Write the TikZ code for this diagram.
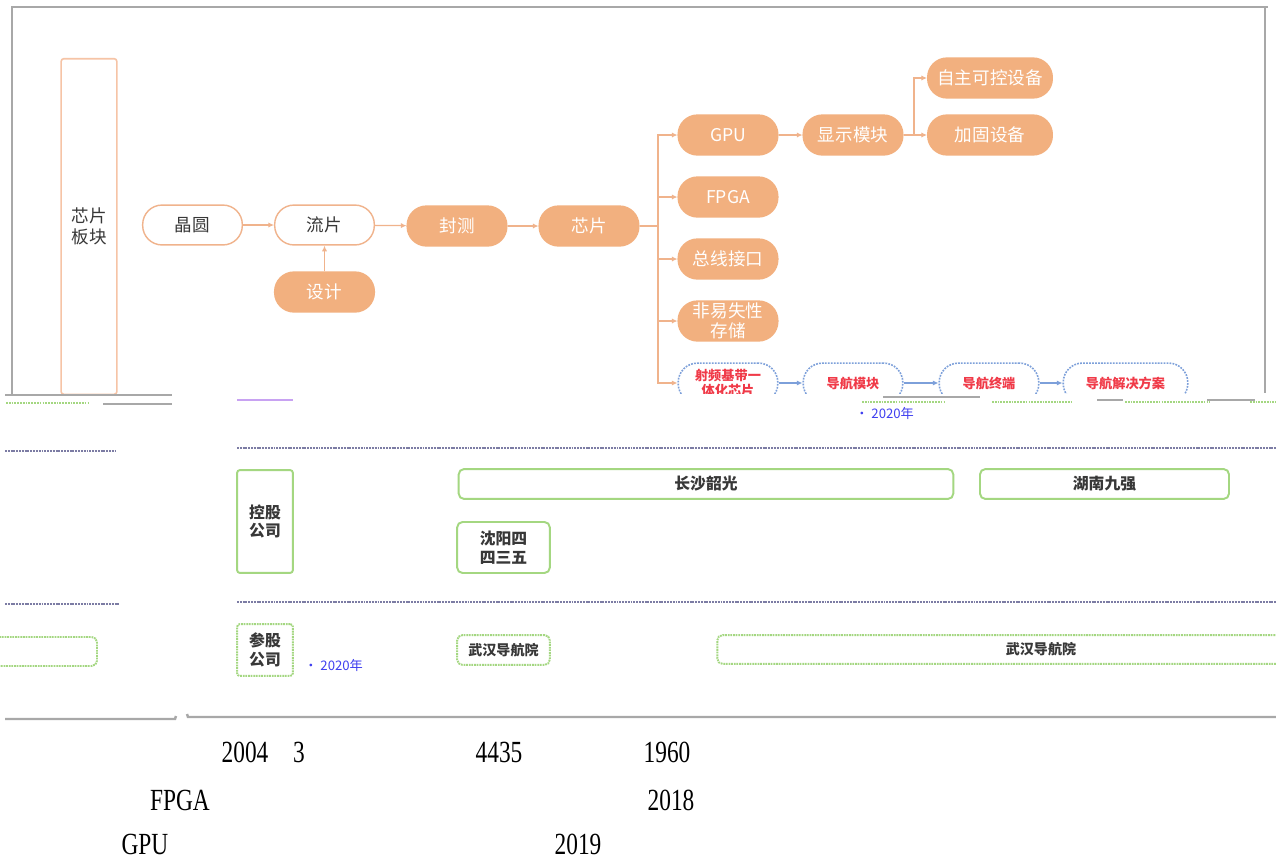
\documentclass[tikz,border=0pt]{standalone}
\usepackage{fontspec}
\setmainfont{Liberation Serif}
\newfontfamily\cjk{Noto Sans CJK SC}
\newfontfamily\tnr[FakeStretch=0.76]{Liberation Serif}
\usetikzlibrary{arrows.meta}
\definecolor{orfill}{HTML}{F2B07F}
\definecolor{orline}{HTML}{F0B38C}
\definecolor{orbox}{HTML}{F6C4A6}
\definecolor{framegray}{HTML}{A8A8A8}
\definecolor{navblue}{HTML}{7DA0DA}
\definecolor{navred}{HTML}{F03A48}
\definecolor{grn}{HTML}{A4D781}
\definecolor{sepcol}{HTML}{7C7CA4}
\definecolor{txtdark}{HTML}{383838}
\definecolor{yrblue}{HTML}{4040F0}
\definecolor{junkpurple}{HTML}{C8A2F2}
\begin{document}
\begin{tikzpicture}[x=0.02cm,y=-0.02cm,
  pillfill/.style={fill=orfill, draw=orfill, line width=0.8pt, rounded corners=11pt,
    minimum width=56.7pt, minimum height=22.7pt, inner sep=1pt, align=center,
    text=white, font=\cjk\fontsize{10}{11.5}\selectfont},
  pillline/.style={pillfill, fill=white, draw=orline, text=txtdark},
  navpill/.style={draw=navblue, line width=0.9pt, dash pattern=on 1pt off 0.7pt,
    rounded corners=11pt, minimum width=56.7pt, minimum height=22.7pt, inner sep=1pt,
    align=center, text=navred, font=\cjk\bfseries\fontsize{7.5}{8.5}\selectfont},
  orarrow/.style={draw=orline, line width=0.7pt, -{Latex[length=3.2pt,width=3pt]}},
  orline/.style={draw=orline, line width=0.7pt},
  navarrow/.style={draw=navblue, line width=0.7pt, -{Latex[length=3.2pt,width=3pt]}},
  gbox/.style={draw=grn, line width=1.1pt, rounded corners=3pt, inner sep=1pt, align=center,
    text=txtdark, font=\cjk\bfseries\fontsize{9}{10.5}\selectfont},
  gdash/.style={gbox, dash pattern=on 1pt off 0.5pt},
  sepline/.style={draw=sepcol, line width=1.5pt, dash pattern=on 1.1pt off 0.5pt},
  yrtext/.style={text=yrblue, font=\cjk\fontsize{7.5}{9}\selectfont, inner sep=0pt},
  bottomtext/.style={font=\tnr\fontsize{17.5}{20}\selectfont, inner sep=0pt},
  junk/.style={draw=framegray, line width=1pt}]
\useasboundingbox (0,0) rectangle (1276,863);
\clip (0,0) rectangle (1276,863);
\fill[white] (0,0) rectangle (1276,863);

% outer frame
\draw[framegray, line width=1.2pt] (12,395) -- (12,7) -- (1268,7);
\draw[framegray, line width=1.2pt] (1265,7) -- (1265,393);

% chip block column
\node[draw=orbox, line width=0.9pt, rounded corners=1.5pt, minimum width=31.7pt,
  minimum height=191pt, inner sep=0pt, align=center, text=txtdark,
  font=\cjk\fontsize{10}{12}\selectfont] (bk) at (89,226.5) {芯片\\板块};

% main chain
\node[pillline] (jy) at (192.5,225) {晶圆};
\node[pillline] (lp) at (324.5,225) {流片};
\node[pillfill] (sj) at (324.5,292) {设计};
\node[pillfill] (fc) at (457,226) {封测};
\node[pillfill] (xp) at (589,226) {芯片};
\node[pillfill] (gpu) at (728,135) {GPU};
\node[pillfill] (fpga) at (728,197) {FPGA};
\node[pillfill] (zx) at (728,259) {总线接口};
\node[pillfill] (fy) at (728,321) {非易失性\\存储};
\node[pillfill] (xs) at (853,135) {显示模块};
\node[pillfill, minimum width=70.9pt] (zz) at (990,78) {自主可控设备};
\node[pillfill, minimum width=70.9pt] (jg) at (990,135) {加固设备};

\draw[orarrow] (jy) -- (lp);
\draw[orarrow] (sj) -- (lp);
\draw[orarrow] (lp) -- (fc);
\draw[orarrow] (fc) -- (xp);
\coordinate (br) at (658,226);
\draw[orline, line width=1.2pt] (xp.east) -- (br);
\draw[orarrow] (br) |- (gpu.west);
\draw[orarrow] (br) |- (fpga.west);
\draw[orarrow] (br) |- (zx.west);
\draw[orarrow] (br) |- (fy.west);
\draw[orarrow] (gpu) -- (xs);
\draw[orarrow] (xs) -- (jg);
\coordinate (br2) at (914,135);
\draw[orarrow] (br2) |- (zz.west);

% navigation row (cut off at the bottom)
\begin{scope}
\clip (600,0) rectangle (1262,393);
\node[navpill] (rf) at (728,383) {射频基带一\\体化芯片};
\node[navpill] (dm) at (853,383) {导航模块};
\node[navpill] (dz) at (989,383) {导航终端};
\node[navpill, minimum width=70.9pt] (dj) at (1125.5,383) {导航解决方案};
\draw[orarrow] (br) |- (rf.west);
\draw[navarrow] (rf) -- (dm);
\draw[navarrow] (dm) -- (dz);
\draw[navarrow] (dz) -- (dj);
\end{scope}

% broken fragments near the cut
\draw[junk] (5,395) -- (172,395);
\draw[junk, line width=0.8pt] (103,404) -- (172,404);
\draw[draw=grn, line width=0.8pt, dash pattern=on 1pt off 0.6pt] (6,403) -- (88,403);
\draw[draw=junkpurple, line width=1pt] (237,400) -- (293,400);
\draw[junk] (883,397) -- (980,397);
\draw[draw=grn, line width=0.8pt, dash pattern=on 1pt off 0.6pt] (862,402) -- (945,402);
\draw[draw=grn, line width=0.8pt, dash pattern=on 1pt off 0.6pt] (992,402) -- (1073,402);
\draw[junk] (1097,400) -- (1123,400);
\draw[draw=grn, line width=0.8pt, dash pattern=on 1pt off 0.6pt] (1125,402) -- (1210,402);
\draw[junk] (1207,400) -- (1255,400);
\draw[draw=grn, line width=0.8pt, dash pattern=on 1pt off 0.6pt] (1250,402) -- (1276,402);
\node[yrtext, anchor=west] (y1) at (855,413) {• 2020年};

% separators
\draw[sepline] (5,451) -- (115,451);
\draw[sepline] (237,448) -- (1276,448);
\draw[sepline] (5,604) -- (120,604);
\draw[sepline] (237,602) -- (1276,602);

% holding companies
\node[gbox, rounded corners=1.5pt, minimum width=31.7pt, minimum height=58.5pt] (kg) at (265,521.5) {控股\\公司};
\node[gbox, minimum width=281.5pt, minimum height=17pt] (cs) at (706,484) {长沙韶光};
\node[gbox, minimum width=141.7pt, minimum height=17pt] (hn) at (1104.5,484) {湖南九强};
\node[gbox, minimum width=52.7pt, minimum height=29pt] (sy) at (503.5,547.5) {沈阳四\\四三五};

% participating companies
\node[gdash, rounded corners=1.5pt, minimum width=31.7pt, minimum height=29.5pt] (cg) at (265,650) {参股\\公司};
\node[gdash, minimum width=52.7pt, minimum height=17pt, font=\cjk\bfseries\fontsize{8}{9}\selectfont] (wh1) at (503.5,650) {武汉导航院};
\node[gdash, minimum width=368.5pt, minimum height=16.4pt, font=\cjk\bfseries\fontsize{8}{9}\selectfont] (wh2) at (1041,649.5) {武汉导航院};
\draw[draw=grn, line width=1.1pt, dash pattern=on 1pt off 0.5pt, rounded corners=3pt] (-20,637) rectangle (97,666);
\node[yrtext, anchor=west] (y2) at (304,665) {• 2020年};

% bottom rule
\draw[junk, line width=1.4pt] (5,719) -- (175,719) -- (176,716);
\draw[junk, line width=1.4pt] (187,714) -- (188,717) -- (1276,717);

% text below
\node[bottomtext] (t1) at (245,752) {2004};
\node[bottomtext] (t2) at (299,752) {3};
\node[bottomtext] (t3) at (499,752) {4435};
\node[bottomtext] (t4) at (667,752) {1960};
\node[bottomtext] (t5) at (180,800) {FPGA};
\node[bottomtext] (t6) at (671,800) {2018};
\node[bottomtext] (t7) at (145,844) {GPU};
\node[bottomtext] (t8) at (578,844) {2019};
\end{tikzpicture}
\end{document}
